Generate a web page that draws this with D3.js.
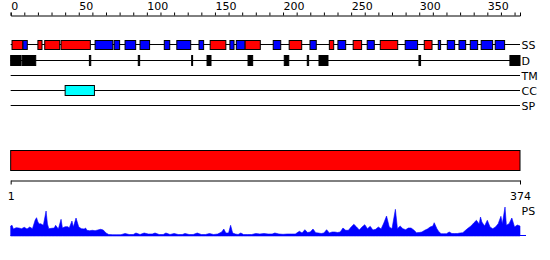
<!DOCTYPE html>
<html><head><meta charset="utf-8">
<script src="https://cdn.jsdelivr.net/npm/d3@7"></script>
<style>body{margin:0;background:#fff}svg{display:block}text{font-family:"DejaVu Sans",sans-serif}</style>
</head><body>
<svg id="c" width="550" height="260"></svg>
<script>
const seqLength = 374;
const topTicks = d3.range(0, 371, 10);
const bottomTickLabels = [1, 374];
const trackLabels = ["SS", "D", "TM", "CC", "SP"];
// secondary structure segments (red / blue)
const helixSegments = [[1,9],[20,23],[25,36],[37,58.5],[146.5,158],[172,183.3],[204.5,213.7],[234,237.2],[251.5,257.7],[271.4,284.2],[303.7,309.4]];
const strandSegments = [[9,12.2],[62,75],[76,80],[84,91.8],[95,102],[112.8,116.8],[122,132.2],[138.3,141.7],[161,164],[165.7,172],[192.8,198.3],[219.8,224.4],[240.3,246],[261.8,267],[289.7,298.8],[314,315.7],[320.6,326],[329.2,334.1],[337.5,342.9],[345.5,353.9],[355.8,362.7]];
const disorderSegments = [[0,7.6],[8.4,18.4],[57.8,58.8],[93.7,94.7],[132.9,133.6],[144.2,147.1],[174.3,177.7],[200.9,204.2],[217.8,218.8],[226.4,233],[299.8,301],[366.6,374]];
const tmSegments = [];
const ccSegments = [[40,61.5]];
const spSegments = [];
const domainSegments = [[0,374]];
const psPos = [0,1,2,4,6,8,10,12,14,16,18,19,20,21,22,24,26,27,28,30,32,33,35,37,38,40,42,43,45,46,48,50,52,54,55,56,58,60,62,64,66,68,70,72,75,78,81,84,87,90,92,95,98,101,104,106,109,112,114,117,120,123,126,128,131,134,137,140,143,146,149,152,155,156.5,158,160,161.5,163,165,167,169,171,174,177,180,183,186,189,192,194,197,200,203,206,209,212,214,216,218,220,222,224,226,228,230,232,234,236,238,240,242,244,246,248,250,252,254,256,258,260,262,264,266,268,270,272,274,276,278,280,282.5,284,286,288,290,292,294,296,298,300,302,304,306,308,310,311,313,314,316,318,320,322,324,326,328,330,332,334,336,338,340,342,344,345,346,348,350,352,354,356,358,360,361,363,364,366,368,370,372,374];
const psVal = [10,10.7,7,8.3,8,7.3,8.7,7,9,7.3,16,18.3,14,12,12.3,10.7,25,12,7.3,7.7,8,10.7,7,16.7,8,9.3,9.3,8,15,9,18,9,7.3,7,8,5.7,5.3,5.7,5.3,6,6.7,6,3,1.5,1.3,1.3,1.3,2.5,1.5,1.5,3,1.5,3,2,2,3,1.5,1.5,3,1.5,2.5,1.5,1.5,2.5,1.5,1.5,3,1.5,1.5,2.5,1.5,2,4,7,3,3,10.7,3,2,1.5,3,1.5,1.5,1.5,2.5,2,2.5,2,2,3,2,1.7,2,2,2,4.7,3,6.3,3.5,4,7,3.3,3,2.5,3,6.3,3,4,4,3.5,4,8,5.7,5.7,9,11.7,9,6,9,11.3,7.3,9.7,6,6.7,9,7,13,20,9,7.3,26.7,7.3,10,7.3,6.3,8,8,6,3.3,3.5,4,5.7,7,9,10,13.3,7.3,5,2.3,2.3,2.3,4,2.5,2.5,2.5,3,3.3,5.7,8,10,13,15.7,12,19,14,10,15.7,9,7.3,9,12.3,19.7,12,29,10.7,12.3,18,9,11,10];

const svg = d3.select("#c");
const x = d3.scaleLinear().domain([0, seqLength]).range([10.67, 520]);
const xb = d3.scaleLinear().domain([1, seqLength]).range([10.67, 520]);

// top axis
const ta = svg.append("g").attr("transform", "translate(0,15.5)")
  .call(d3.axisTop(x).tickValues(topTicks).tickSizeInner(3).tickSizeOuter(3).tickPadding(3)
    .tickFormat(d => d % 50 === 0 ? d : ""));
ta.selectAll("text").attr("text-anchor", "start").attr("font-size", 11).attr("font-family", "DejaVu Sans").attr("fill", "#000");
ta.selectAll("line,path").attr("stroke", "#000");

// track lines
const trackY = {SS: 44.5, D: 60.5, TM: 75.5, CC: 90.5, SP: 105.5};
trackLabels.forEach(t => {
  svg.append("line").attr("x1", x(0)).attr("x2", x(seqLength)).attr("y1", trackY[t]).attr("y2", trackY[t]).attr("stroke", "#000");
  svg.append("text").attr("x", x(seqLength) + 1.5).attr("y", trackY[t] + 4).attr("font-size", 11).attr("fill", "#000").text(t);
});

function boxes(segs, y, h, fill) {
  svg.append("g").selectAll("rect").data(segs).join("rect")
    .attr("x", d => x(d[0])).attr("width", d => x(d[1]) - x(d[0]))
    .attr("y", y).attr("height", h).attr("fill", fill).attr("stroke", "#000").attr("stroke-width", 1);
}
boxes(helixSegments, 40.5, 9, "#ff0000");
boxes(strandSegments, 40.5, 9, "#0000ff");
boxes(disorderSegments, 55.5, 10, "#000");
boxes(tmSegments, 70.5, 10, "#ff00ff");
boxes(ccSegments, 85.5, 10, "#00ffff");
boxes(spSegments, 100.5, 10, "#00ff00");
boxes(domainSegments, 150.5, 20, "#ff0000");

// bottom axis
const ba = svg.append("g").attr("transform", "translate(0,180.5)")
  .call(d3.axisBottom(xb).tickValues(bottomTickLabels).tickSizeInner(4).tickSizeOuter(0).tickPadding(8));
ba.selectAll("text").attr("font-size", 11).attr("font-family", "DejaVu Sans").attr("fill", "#000");
ba.selectAll("line,path").attr("stroke", "#000");

// PS profile
const y = d3.scaleLinear().domain([0, 30]).range([236, 206]);
const ps = psPos.map((p, i) => [p, psVal[i]]);
svg.append("path").datum(ps)
  .attr("d", d3.area().x(d => x(d[0])).y0(y(0)).y1(d => y(d[1])))
  .attr("fill", "#0000ff").attr("stroke", "#0000ff").attr("stroke-width", 0.6);
svg.append("line").attr("x1", x(0)).attr("x2", x(seqLength) + 6).attr("y1", 235.5).attr("y2", 235.5).attr("stroke", "#0000ff");
svg.append("text").attr("x", x(seqLength) + 1.5).attr("y", 215).attr("font-size", 11).attr("fill", "#000").text("PS");
</script>
</body></html>
